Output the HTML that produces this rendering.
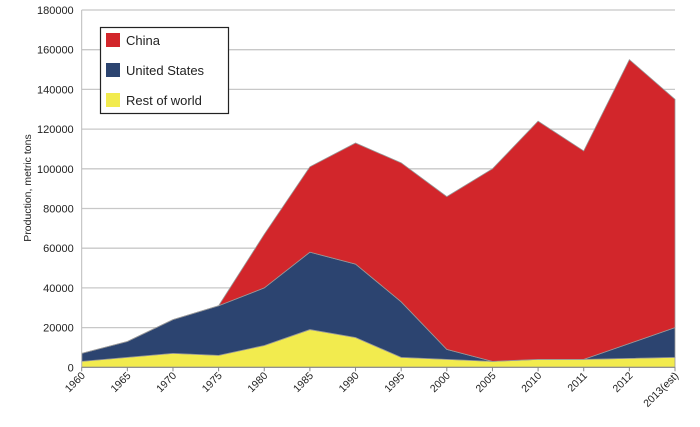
<!DOCTYPE html>
<html><head><meta charset="utf-8"><style>
body{margin:0;background:#fff;font-family:"Liberation Sans",sans-serif}
svg text{font-family:"Liberation Sans",sans-serif;fill:#222}
</style></head><body>
<svg id="chart" width="700" height="422" xmlns="http://www.w3.org/2000/svg">
<g id="grid"></g>
<g id="areas"></g>
<g id="yt"></g>
<g id="xt"></g>
<text transform="translate(31,188) rotate(-90)" text-anchor="middle" font-size="10.5">Production, metric tons</text>
<g>
<rect x="100.5" y="27.5" width="128" height="86" fill="#fff" stroke="#222" stroke-width="1.2"/>
<g><rect x="106" y="33" width="14" height="14" fill="#d2262b"/><text x="126" y="45" font-size="13">China</text></g>
<g><rect x="106" y="63" width="14" height="14" fill="#2c4470"/><text x="126" y="75" font-size="13">United States</text></g>
<g><rect x="106" y="93" width="14" height="14" fill="#f2eb4e"/><text x="126" y="105" font-size="13">Rest of world</text></g>
</g>
</svg>
<script>
const categories=["1960","1965","1970","1975","1980","1985","1990","1995","2000","2005","2010","2011","2012","2013(est)"];
const rest=[3000,5000,7000,6000,11000,19000,15000,5000,4000,3000,4000,4000,4500,5000];
const us=[4000,8000,17000,25000,29000,39000,37000,28000,5000,0,0,0,7500,15000];
const china=[0,0,0,0,27000,43000,61000,70000,77000,97000,120000,105000,143000,115000];
const yTicks=[0,20000,40000,60000,80000,100000,120000,140000,160000,180000];
const NS="http://www.w3.org/2000/svg";
const x0=81.7,x1=675,y0=367.3,y1=10;
const xs=i=>x0+i*(x1-x0)/(categories.length-1);
const ys=v=>y0-v*(y0-y1)/180000;
function mk(t,a,p){const e=document.createElementNS(NS,t);for(const k in a)e.setAttribute(k,a[k]);p.appendChild(e);return e;}
const grid=document.getElementById('grid'),yt=document.getElementById('yt'),xt=document.getElementById('xt'),areas=document.getElementById('areas');
yTicks.forEach(v=>{
 const l=mk('line',{x1:x0,x2:x1,y1:ys(v),y2:ys(v),stroke:'#c8c8c8','stroke-width':1.3},grid);
 
 
 const t=mk('text',{x:x0-8,y:ys(v)+4,'text-anchor':'end','font-size':11},yt);t.textContent=v;
 
 
});
mk('line',{x1:x0,x2:x0,y1:y1,y2:y0,stroke:'#bbb'},yt);
mk('line',{x1:x0,x2:x1,y1:y0,y2:y0,stroke:'#888'},xt);
categories.forEach((c,i)=>{
 mk('line',{x1:xs(i),x2:xs(i),y1:y0,y2:y0+4,stroke:'#888'},xt);
 const t=mk('text',{'text-anchor':'end','font-size':10.5,transform:`translate(${xs(i)+4},${y0+9}) rotate(-45)`},xt);t.textContent=c;
 
 
});
const layers=[[rest,'#f2eb4e','area-rest-of-world'],[us,'#2c4470','area-united-states'],[china,'#d2262b','area-china']];
let base=categories.map(()=>0);
layers.forEach(([vals,col,name])=>{
 const top=base.map((b,i)=>b+vals[i]);
 let d='M'+top.map((v,i)=>xs(i)+','+ys(v)).join('L');
 for(let i=base.length-1;i>=0;i--)d+='L'+xs(i)+','+ys(base[i]);
 const p=mk('path',{d:d+'Z',fill:col,stroke:'#999','stroke-width':0.8},areas);
 
 
 base=top;
});
</script>
</body></html>
